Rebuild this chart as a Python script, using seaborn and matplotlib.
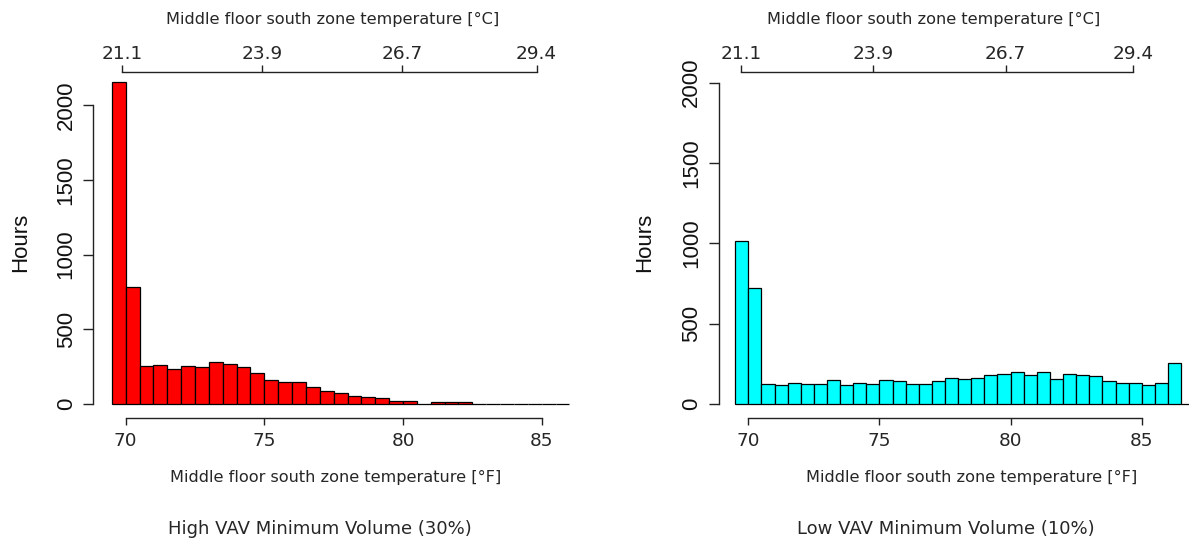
import numpy as np
import pandas as pd
import matplotlib
matplotlib.use("Agg")
import matplotlib.pyplot as plt
import seaborn as sns

# ---------------- data ----------------
bin_start_f = 69.5          # first histogram break [°F]
bin_width_f = 0.5           # histogram bin width [°F]

high_counts = [2154, 784, 257, 265, 239, 257, 248, 281, 272, 248, 212, 161,
               151, 151, 118, 91, 76, 58, 49, 40, 22, 22, 3, 13, 13, 13,
               4, 4, 4, 0, 0, 0, 0]
low_counts = [1013, 724, 127, 116, 133, 127, 127, 149, 116, 133, 127, 149,
              141, 127, 127, 141, 164, 158, 164, 181, 189, 197, 181, 197,
              158, 189, 181, 172, 141, 133, 133, 116, 133, 253, 0, 0, 0]

f_ticks = [70, 75, 80, 85]
c_ticks = [21.1, 23.9, 26.7, 29.4]
c_tick_labels = ["21.1", "23.9", "26.7", "29.4"]
y_ticks = [0, 500, 1000, 1500, 2000]

top_label = "Middle floor south zone temperature [°C]"
bottom_label = "Middle floor south zone temperature [°F]"
ylabel = "Hours"
titles = ["High VAV Minimum Volume (30%)", "Low VAV Minimum Volume (10%)"]
colors = ["#FF0000", "#00FFFF"]

# ---------------- figure ----------------
sns.set_theme(style="white")
plt.rcParams["font.family"] = ["DejaVu Sans"]
plt.rcParams["axes.unicode_minus"] = False

W, H = 1189, 538
fig = plt.figure(figsize=(W / 100, H / 100), dpi=100)
fig.patch.set_facecolor("white")

AX_COL = "#222222"
TXT_COL = "#262626"

def box(x0, y0, x1, y1):
    return [x0 / W, (H - y1) / H, (x1 - x0) / W, (y1 - y0) / H]

panels = [
    dict(counts=high_counts, color=colors[0], box=box(93.3, 71.7, 587.0, 417.7),
         xlim=(68.832, 86.635), ylim=(-89.5, 2222.5), top_shift=-0.10,
         top_title_x=332.5, xlabel_x=336, title_x=320, hours_x=20.5),
    dict(counts=low_counts, color=colors[1], box=box(719.0, 71.7, 1224.4, 417.7),
         xlim=(68.883, 88.151), ylim=(-85.3, 2068.5), top_shift=-0.25,
         top_title_x=934, xlabel_x=971.7, title_x=946, hours_x=644.5),
]

for i, p in enumerate(panels):
    counts = [float(c) for c in p["counts"]]
    n = len(counts)
    lo = bin_start_f
    hi = bin_start_f + bin_width_f * n
    centers = [lo + bin_width_f * (k + 0.5) for k in range(n)]
    df = pd.DataFrame({"temp_f": centers, "hours": counts})

    ax = fig.add_axes(p["box"])
    sns.histplot(data=df, x="temp_f", weights="hours", binwidth=bin_width_f,
                 binrange=(lo, hi), ax=ax, color=p["color"], alpha=1,
                 edgecolor="black", linewidth=0.9, stat="count")
    ax.set_xlim(*p["xlim"])
    ax.set_ylim(*p["ylim"])
    ax.set_xlabel("")
    ax.set_ylabel("")
    ax.set_facecolor("white")
    ax.grid(False)

    for s in ("top", "right"):
        ax.spines[s].set_visible(False)
    for s in ("left", "bottom"):
        ax.spines[s].set_color(AX_COL)
        ax.spines[s].set_linewidth(1.0)
    ax.spines["bottom"].set_bounds(f_ticks[0], f_ticks[-1])
    ax.spines["left"].set_bounds(y_ticks[0], y_ticks[-1])

    ax.set_xticks(f_ticks)
    ax.set_xticklabels([str(t) for t in f_ticks])
    ax.set_yticks(y_ticks)
    ax.set_yticklabels([str(t) for t in y_ticks])
    ax.tick_params(axis="x", which="both", bottom=True, top=False, direction="out",
                   length=5, width=1.0, color=AX_COL, labelsize=13.3,
                   labelcolor=TXT_COL, pad=5)
    ax.tick_params(axis="y", which="both", left=True, right=False, direction="out",
                   length=7, width=1.0, color=AX_COL, labelsize=16,
                   labelcolor="#111111", pad=5, labelrotation=90,
                   labelfontfamily="Liberation Sans")
    for lbl in ax.get_yticklabels():
        lbl.set_verticalalignment("center")

    # top (°C) axis
    ax2 = ax.twiny()
    ax2.set_position(p["box"])
    ax2.set_xlim(*p["xlim"])
    top_pos = [c * 9 / 5 + 32 + p["top_shift"] for c in c_ticks]
    ax2.set_xticks(top_pos)
    ax2.set_xticklabels(c_tick_labels)
    for s in ("left", "right", "bottom"):
        ax2.spines[s].set_visible(False)
    ax2.spines["top"].set_color(AX_COL)
    ax2.spines["top"].set_linewidth(1.0)
    ax2.spines["top"].set_bounds(top_pos[0], top_pos[-1])
    ax2.tick_params(axis="x", direction="out", length=5, width=1.0, color=AX_COL,
                    labelsize=13.3, labelcolor=TXT_COL, pad=1.5)
    ax2.tick_params(axis="y", left=False, right=False, labelleft=False,
                    labelright=False)
    ax2.patch.set_visible(False)
    ax2.grid(False)

    # texts
    fig.text(p["top_title_x"] / W, 1 - 19 / H, top_label, ha="center", va="center",
             fontsize=11.6, color=TXT_COL)
    fig.text(p["xlabel_x"] / W, 1 - 477 / H, bottom_label, ha="center", va="center",
             fontsize=11.6, color=TXT_COL)
    fig.text(p["title_x"] / W, 1 - 529 / H, titles[i], ha="center", va="center",
             fontsize=13, color=TXT_COL)
    fig.text(p["hours_x"] / W, 1 - 242.5 / H, ylabel, ha="center", va="center",
             rotation=90, fontsize=16, family="Liberation Sans", color="#111111")

fig.savefig("out.png", dpi=100, facecolor="white")
